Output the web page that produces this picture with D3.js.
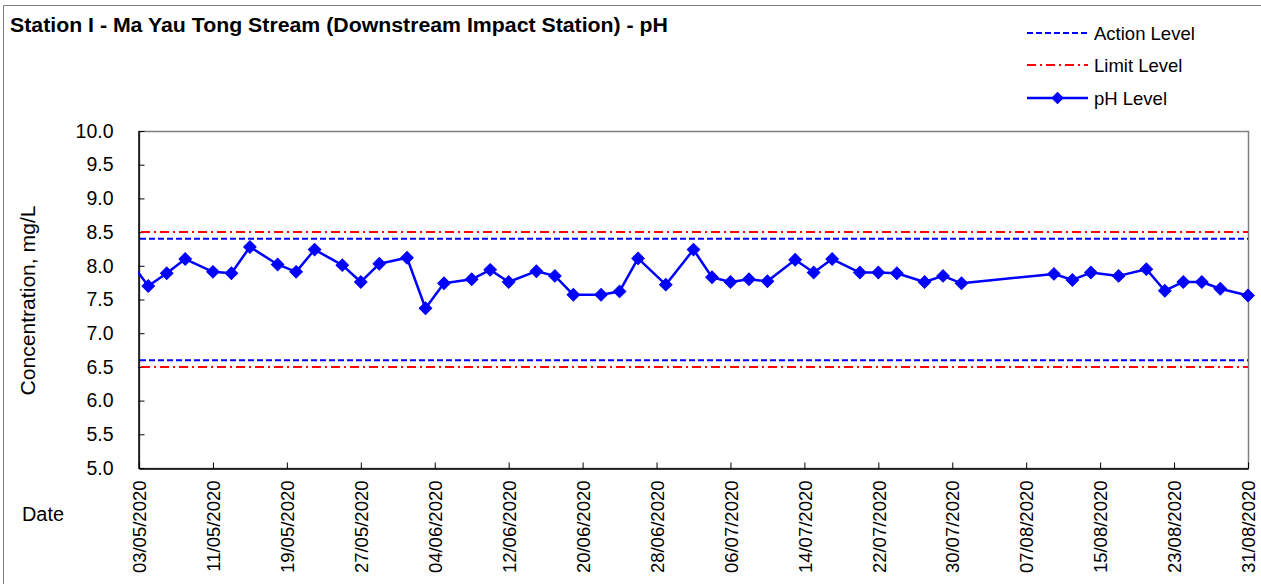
<!DOCTYPE html>
<html>
<head>
<meta charset="utf-8">
<script src="https://cdn.jsdelivr.net/npm/d3@7"></script>
<style>
  html, body { margin: 0; padding: 0; background: #fff; }
  svg { display: block; font-family: "Liberation Sans", Arial, sans-serif; }
</style>
</head>
<body>
<svg id="chart" width="1261" height="584"></svg>
<script>
// ---- Data ----
const sampleDates = [
  "02/05/2020","04/05/2020","06/05/2020","08/05/2020","11/05/2020","13/05/2020","15/05/2020",
  "18/05/2020","20/05/2020","22/05/2020","25/05/2020","27/05/2020","29/05/2020","01/06/2020",
  "03/06/2020","05/06/2020","08/06/2020","10/06/2020","12/06/2020","15/06/2020","17/06/2020",
  "19/06/2020","22/06/2020","24/06/2020","26/06/2020","29/06/2020","02/07/2020","04/07/2020",
  "06/07/2020","08/07/2020","10/07/2020","13/07/2020","15/07/2020","17/07/2020","20/07/2020",
  "22/07/2020","24/07/2020","27/07/2020","29/07/2020","31/07/2020","10/08/2020","12/08/2020",
  "14/08/2020","17/08/2020","20/08/2020","22/08/2020","24/08/2020","26/08/2020","28/08/2020",
  "31/08/2020"
];
const phValues = [
  8.07, 7.70, 7.89, 8.10, 7.91, 7.89, 8.28,
  8.02, 7.91, 8.24, 8.01, 7.76, 8.03, 8.12,
  7.37, 7.74, 7.80, 7.94, 7.76, 7.92, 7.85,
  7.57, 7.57, 7.62, 8.11, 7.72, 8.24, 7.83,
  7.76, 7.80, 7.77, 8.09, 7.90, 8.10, 7.90,
  7.90, 7.89, 7.76, 7.85, 7.74, 7.88, 7.79,
  7.90, 7.85, 7.95, 7.63, 7.76, 7.76, 7.66,
  7.56
];
const actionLevels = [8.4, 6.6];
const limitLevels = [8.5, 6.5];
const xTickLabels = ["03/05/2020","11/05/2020","19/05/2020","27/05/2020","04/06/2020","12/06/2020",
  "20/06/2020","28/06/2020","06/07/2020","14/07/2020","22/07/2020","30/07/2020","07/08/2020",
  "15/08/2020","23/08/2020","31/08/2020"];
const yTicks = [5.0, 5.5, 6.0, 6.5, 7.0, 7.5, 8.0, 8.5, 9.0, 9.5, 10.0];
const legendLabels = ["Action Level", "Limit Level", "pH Level"];
const titleText = "Station I - Ma Yau Tong Stream (Downstream Impact Station) - pH";
const yTitle = "Concentration, mg/L";
const xTitle = "Date";

// ---- Setup ----
const parse = d3.utcParse("%d/%m/%Y");
const data = sampleDates.map((d, i) => ({ date: parse(d), value: phValues[i] }));
const svg = d3.select("#chart");
const W = 1261, H = 584;
const plot = { left: 139, right: 1248, top: 131, bottom: 468 };

const x = d3.scaleUtc()
  .domain([parse(xTickLabels[0]), parse(xTickLabels[xTickLabels.length - 1])])
  .range([plot.left, plot.right]);
const y = d3.scaleLinear().domain([5, 10]).range([plot.bottom, plot.top]);

// chart area border
svg.append("path")
  .attr("d", `M3.5,${H} V5.5 H${W}`)
  .attr("fill", "none").attr("stroke", "#7f7f7f").attr("stroke-width", 1);

// plot area border
svg.append("rect")
  .attr("x", plot.left + 0.5).attr("y", plot.top + 0.5)
  .attr("width", plot.right - plot.left).attr("height", plot.bottom - plot.top)
  .attr("fill", "none").attr("stroke", "#808080").attr("stroke-width", 1.5);

// title
svg.append("text")
  .attr("x", 10).attr("y", 32)
  .attr("font-size", 19.5).attr("font-weight", "bold").attr("fill", "#000")
  .attr("textLength", 658).attr("lengthAdjust", "spacingAndGlyphs")
  .text(titleText);

// Y axis
const yAxis = d3.axisLeft(y).tickValues(yTicks).tickFormat(d3.format(".1f"))
  .tickSizeInner(-6).tickSizeOuter(0).tickPadding(25);
const gy = svg.append("g").attr("transform", `translate(${plot.left - 0.5},0)`).call(yAxis);
gy.select(".domain").attr("stroke", "#000").attr("stroke-width", 1.5);
gy.selectAll(".tick line").attr("stroke", "#000").attr("stroke-width", 1);
gy.selectAll(".tick text").attr("font-size", 19.5).attr("fill", "#000")
  .attr("font-family", "'Liberation Sans', Arial, sans-serif");

// X axis
const xAxis = d3.axisBottom(x).tickValues(xTickLabels.map(parse))
  .tickFormat(d3.utcFormat("%d/%m/%Y")).tickSizeInner(-6).tickSizeOuter(0);
const gx = svg.append("g").attr("transform", `translate(0,${plot.bottom + 0.5})`).call(xAxis);
gx.select(".domain").attr("stroke", "#000").attr("stroke-width", 1.5);
gx.selectAll(".tick line").attr("stroke", "#000").attr("stroke-width", 1);
gx.selectAll(".tick text")
  .attr("font-size", 18.5).attr("fill", "#000")
  .attr("font-family", "'Liberation Sans', Arial, sans-serif")
  .attr("text-anchor", "end")
  .attr("transform", "rotate(-90)")
  .attr("x", -12).attr("y", 0).attr("dy", "0.36em");

// axis titles
svg.append("text")
  .attr("transform", `translate(35,${(plot.top + plot.bottom) / 2 + 1}) rotate(-90)`)
  .attr("text-anchor", "middle").attr("font-size", 19.5).attr("fill", "#000")
  .attr("textLength", 190).attr("lengthAdjust", "spacingAndGlyphs")
  .text(yTitle);
svg.append("text")
  .attr("x", 22).attr("y", 521).attr("font-size", 19.5).attr("fill", "#000")
  .attr("textLength", 42).attr("lengthAdjust", "spacingAndGlyphs")
  .text(xTitle);

// level lines
const actionStyle = { stroke: "#0000ff", dash: "6,3" };
const limitStyle = { stroke: "#ff0000", dash: "9,4,2,4" };
limitLevels.forEach(v => {
  svg.append("line")
    .attr("x1", plot.left + 2).attr("x2", plot.right)
    .attr("y1", y(v)).attr("y2", y(v))
    .attr("stroke", limitStyle.stroke).attr("stroke-width", 2)
    .attr("stroke-dasharray", limitStyle.dash);
});
actionLevels.forEach(v => {
  svg.append("line")
    .attr("x1", plot.left + 1).attr("x2", plot.right)
    .attr("y1", y(v)).attr("y2", y(v))
    .attr("stroke", actionStyle.stroke).attr("stroke-width", 2)
    .attr("stroke-dasharray", actionStyle.dash);
});

// clip for data line (left edge at axis min)
svg.append("clipPath").attr("id", "clip")
  .append("rect").attr("x", plot.left - 1).attr("y", 0)
  .attr("width", W - plot.left + 1).attr("height", H);

const line = d3.line().x(d => x(d.date)).y(d => y(d.value));
svg.append("path").datum(data)
  .attr("clip-path", "url(#clip)")
  .attr("d", line)
  .attr("fill", "none").attr("stroke", "#0000ff").attr("stroke-width", 2.5)
  .attr("stroke-linejoin", "round");

const diamond = d3.symbol().type(d3.symbolSquare).size(78);
const inDomain = data.filter(d => d.date >= x.domain()[0]);
svg.append("g").selectAll("path").data(inDomain).join("path")
  .attr("d", diamond)
  .attr("transform", d => `translate(${x(d.date)},${y(d.value)}) rotate(45)`)
  .attr("fill", "#0000ff").attr("stroke", "#0000ff").attr("stroke-width", 1);

// legend
const lg = svg.append("g");
const legX1 = 1027, legX2 = 1088, legTextX = 1094;
const legRows = [33, 65, 98];
lg.append("line").attr("x1", legX1).attr("x2", legX2).attr("y1", legRows[0]).attr("y2", legRows[0])
  .attr("stroke", actionStyle.stroke).attr("stroke-width", 2).attr("stroke-dasharray", actionStyle.dash);
lg.append("line").attr("x1", legX1).attr("x2", legX2).attr("y1", legRows[1]).attr("y2", legRows[1])
  .attr("stroke", limitStyle.stroke).attr("stroke-width", 2).attr("stroke-dasharray", limitStyle.dash);
lg.append("line").attr("x1", legX1).attr("x2", legX2).attr("y1", legRows[2]).attr("y2", legRows[2])
  .attr("stroke", "#0000ff").attr("stroke-width", 2.5);
lg.append("path").attr("d", diamond)
  .attr("transform", `translate(${(legX1 + legX2) / 2},${legRows[2]}) rotate(45)`)
  .attr("fill", "#0000ff");
legendLabels.forEach((t, i) => {
  lg.append("text").attr("x", legTextX).attr("y", legRows[i]).attr("dy", "0.36em")
    .attr("font-size", 18.5).attr("fill", "#000").text(t);
});
</script>
</body>
</html>
